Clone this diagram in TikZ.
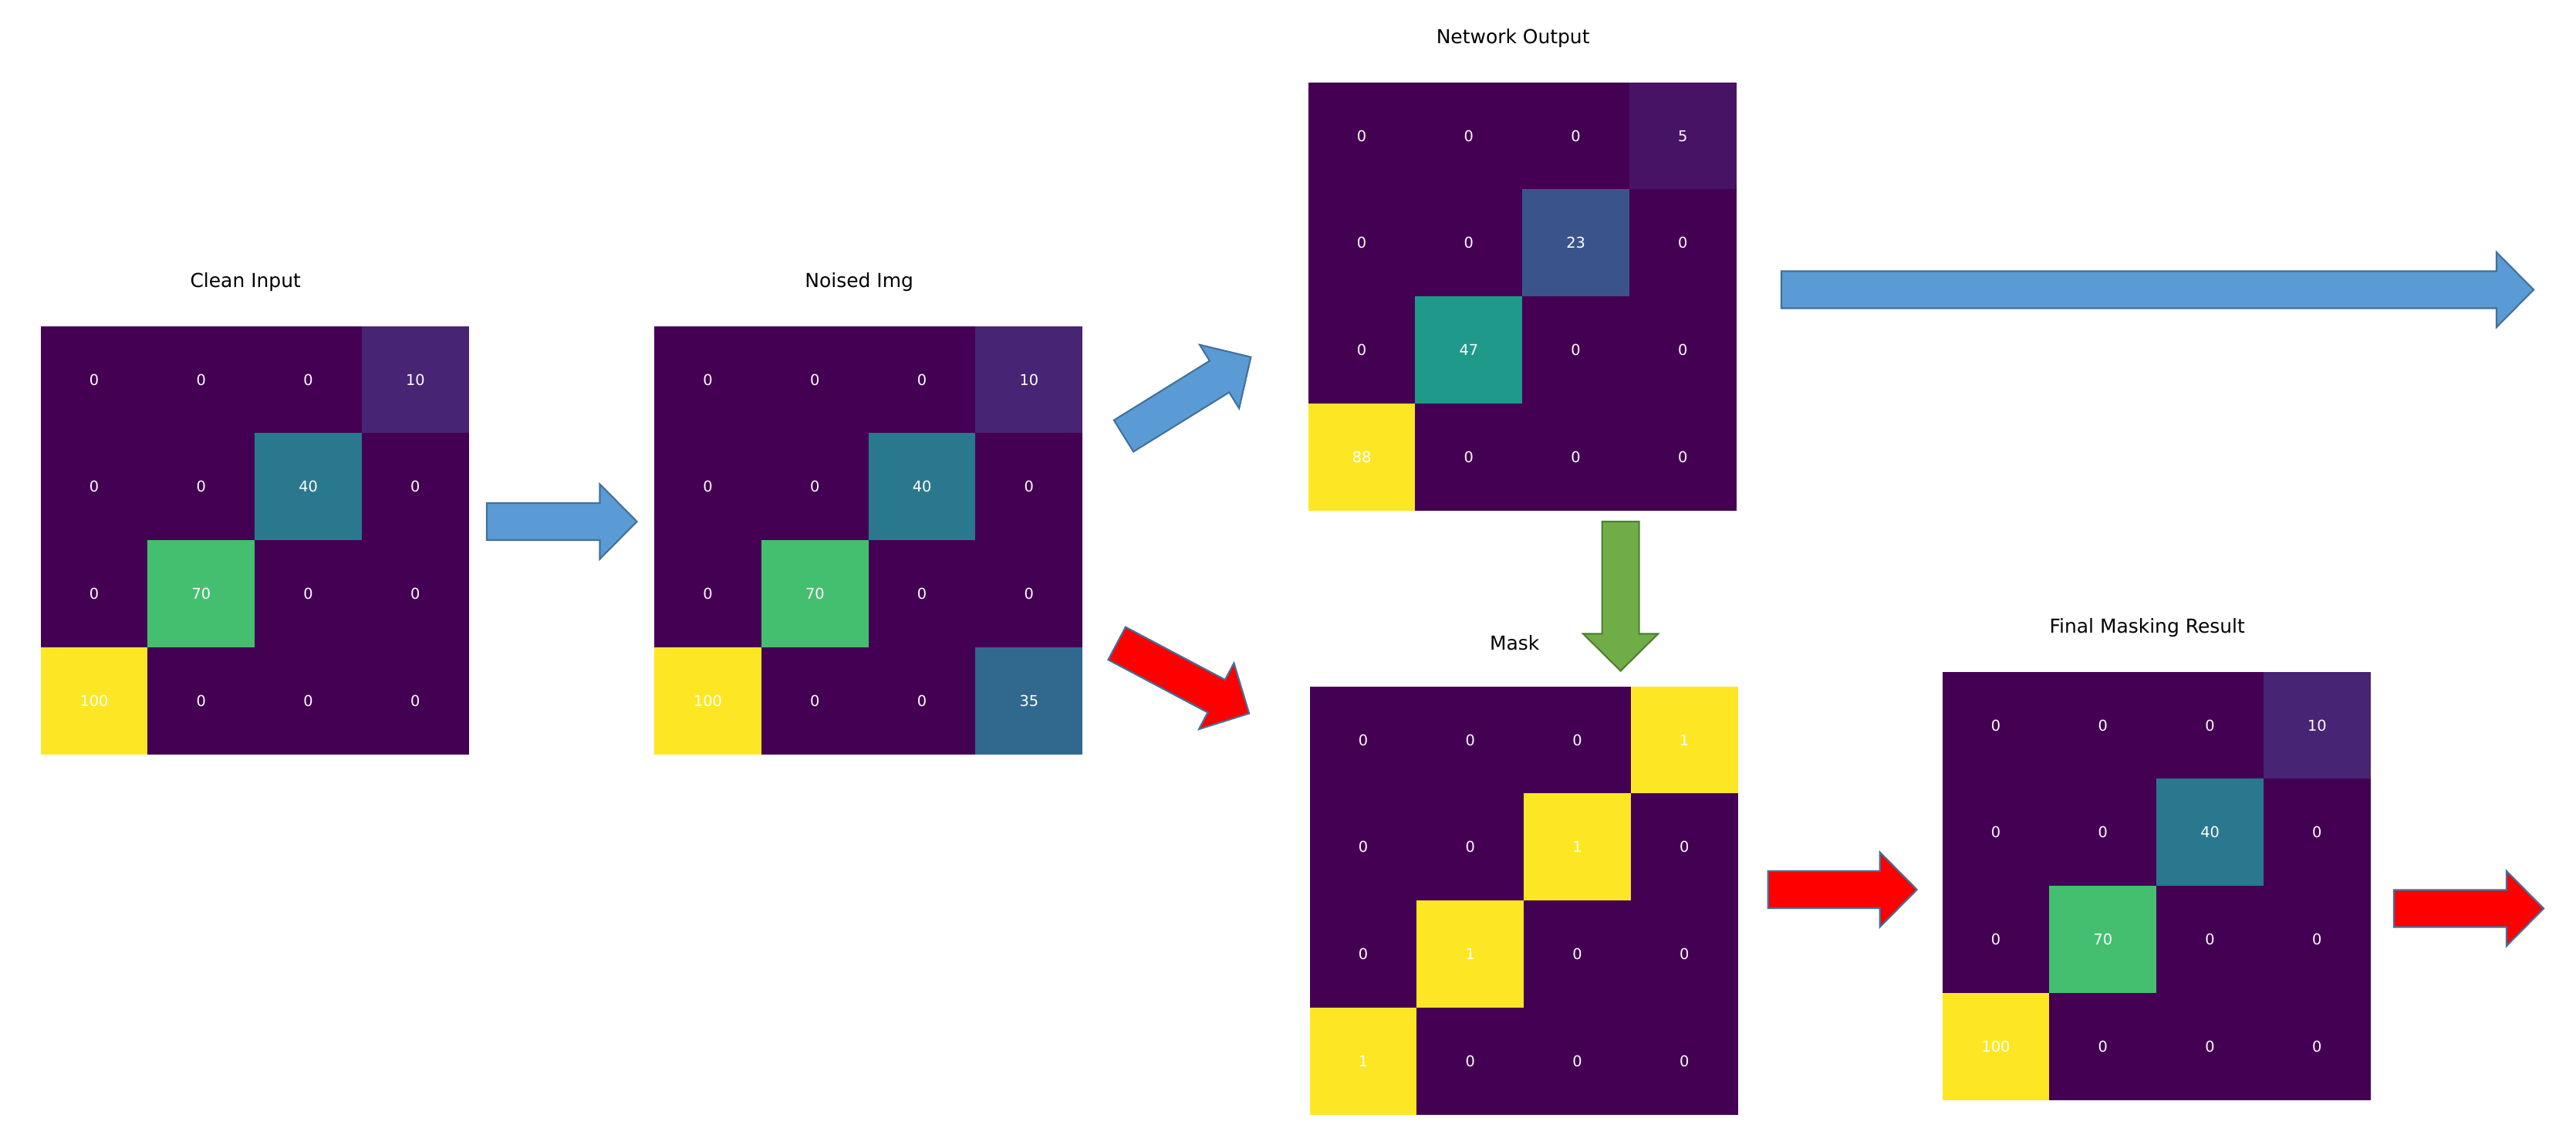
\documentclass[tikz,border=0pt]{standalone}
\usepackage{fontspec}
\setmainfont{DejaVu Sans}
\usepackage{tikz}
\usetikzlibrary{matrix,positioning}

% viridis colours of the heat maps
\definecolor{vzero}{HTML}{440154}
\definecolor{vfive}{HTML}{471365}
\definecolor{vten}{HTML}{482475}
\definecolor{vtwentythree}{HTML}{3A538B}
\definecolor{vthirtyfive}{HTML}{31688E}
\definecolor{vforty}{HTML}{2A788E}
\definecolor{vfortyseven}{HTML}{1F998A}
\definecolor{vseventy}{HTML}{44BF70}
\definecolor{vmax}{HTML}{FDE725}
% arrow colours
\definecolor{arrowblue}{HTML}{5B9BD5}
\definecolor{arrowedge}{HTML}{41719C}
\definecolor{arrowgreen}{HTML}{70AD47}
\definecolor{greenedge}{HTML}{507E32}

\tikzset{
	cell/.style={minimum size=1.3875cm, inner sep=0pt, anchor=center, text=white, font=\fontsize{5.5}{6}\selectfont},
	heatmap/.style={matrix of nodes, anchor=north west, inner sep=0pt, fill=vzero, column sep=0pt, row sep=0pt, nodes={cell}},
	title/.style={font=\fontsize{7.1}{8.5}\selectfont, inner sep=0pt},
	bluearrow/.style={fill=arrowblue, draw=arrowedge, line width=0.6pt},
	redarrow/.style={fill=red, draw=arrowedge, line width=0.6pt},
	greenarrow/.style={fill=arrowgreen, draw=greenedge, line width=0.6pt},
	pics/fatarrow/.style={code={
		\path[pic actions] (0,0.24) -- (#1-0.48,0.24) -- (#1-0.48,0.485) -- (#1,0)
			-- (#1-0.48,-0.485) -- (#1-0.48,-0.24) -- (0,-0.24) -- cycle;
	}},
}

\begin{document}
\begin{tikzpicture}
		\useasboundingbox (0,0) rectangle (33.39,-14.83);

		% clean input
		\matrix[heatmap] (clean) at (0.52,-4.22) {
			0 & 0 & 0 & |[fill=vten]| 10 \\
			0 & 0 & |[fill=vforty]| 40 & 0 \\
			0 & |[fill=vseventy]| 70 & 0 & 0 \\
			|[fill=vmax]| 100 & 0 & 0 & 0 \\
		};
		\node[title] (clean-t) at ([shift={(-0.12,0.56)}]clean.north) {Clean Input};

		% noised image
		\matrix[heatmap] (noised) at (8.475,-4.22) {
			0 & 0 & 0 & |[fill=vten]| 10 \\
			0 & 0 & |[fill=vforty]| 40 & 0 \\
			0 & |[fill=vseventy]| 70 & 0 & 0 \\
			|[fill=vmax]| 100 & 0 & 0 & |[fill=vthirtyfive]| 35 \\
		};
		\node[title] (noised-t) at ([shift={(-0.12,0.56)}]noised.north) {Noised Img};

		% network output
		\matrix[heatmap] (net) at (16.95,-1.06) {
			0 & 0 & 0 & |[fill=vfive]| 5 \\
			0 & 0 & |[fill=vtwentythree]| 23 & 0 \\
			0 & |[fill=vfortyseven]| 47 & 0 & 0 \\
			|[fill=vmax]| 88 & 0 & 0 & 0 \\
		};
		\node[title] (net-t) at ([shift={(-0.12,0.56)}]net.north) {Network Output};

		% mask
		\matrix[heatmap] (mask) at (16.97,-8.89) {
			0 & 0 & 0 & |[fill=vmax]| 1 \\
			0 & 0 & |[fill=vmax]| 1 & 0 \\
			0 & |[fill=vmax]| 1 & 0 & 0 \\
			|[fill=vmax]| 1 & 0 & 0 & 0 \\
		};
		\node[title] (mask-t) at ([shift={(-0.12,0.56)}]mask.north) {Mask};

		% final masking result
		\matrix[heatmap] (final) at (25.17,-8.70) {
			0 & 0 & 0 & |[fill=vten]| 10 \\
			0 & 0 & |[fill=vforty]| 40 & 0 \\
			0 & |[fill=vseventy]| 70 & 0 & 0 \\
			|[fill=vmax]| 100 & 0 & 0 & 0 \\
		};
		\node[title] (final-t) at ([shift={(-0.12,0.56)}]final.north) {Final Masking Result};

		% block arrows between the maps
		\pic[bluearrow] at (6.31,-6.76) {fatarrow=1.945};
		\pic[bluearrow, rotate=31.8] at (14.565,-5.65) {fatarrow=1.94};
		\pic[redarrow, rotate=-27.9] at (14.477,-8.339) {fatarrow=1.94};
		\pic[bluearrow] at (23.09,-3.755) {fatarrow=9.75};
		\pic[greenarrow, rotate=-90] at (21.006,-6.76) {fatarrow=1.935};
		\pic[redarrow] at (22.917,-11.53) {fatarrow=1.93};
		\pic[redarrow] at (31.03,-11.775) {fatarrow=1.94};

	\end{tikzpicture}
\end{document}
